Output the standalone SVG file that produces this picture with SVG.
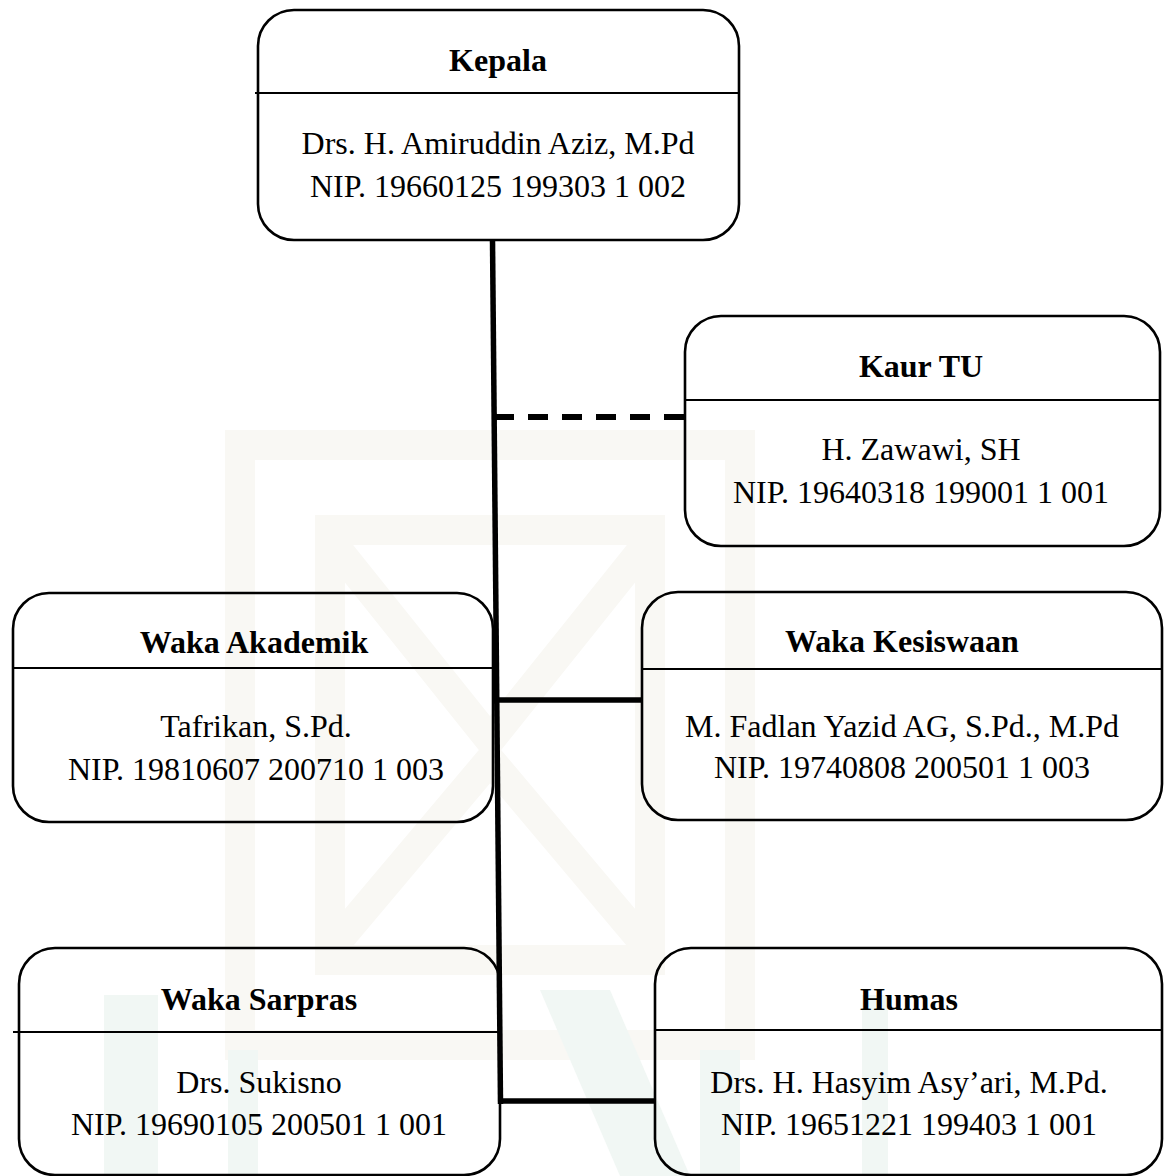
<svg xmlns="http://www.w3.org/2000/svg" width="1165" height="1176" viewBox="0 0 1165 1176">
  <style>
    .box { fill: none; stroke: #000; stroke-width: 2.6; }
    .div { stroke: #000; stroke-width: 2; }
    .title { font-family: "Liberation Serif", "Times New Roman", serif; font-weight: bold; font-size: 32px; text-anchor: middle; fill: #000; }
    .body { font-family: "Liberation Serif", "Times New Roman", serif; font-size: 32px; text-anchor: middle; fill: #000; }
    .link { stroke: #000; stroke-width: 5.5; fill: none; }
    .dash { stroke-dasharray: 20 14; stroke-width: 6; }
    .wm-a { fill: none; stroke: #f9f8f4; stroke-width: 30; }
    .wm-b { fill: #f1f7f4; }
  </style>

  <rect width="1165" height="1176" fill="#ffffff"/>

  <!-- faint background emblem -->
  <g id="watermark">
    <rect class="wm-a" x="240" y="445" width="500" height="600"/>
    <rect class="wm-a" x="330" y="530" width="320" height="430"/>
    <path class="wm-a" d="M330 540 L490 740 L650 540 M330 950 L490 760 L650 950"/>
    <rect class="wm-b" x="104" y="995" width="54" height="181"/>
    <rect class="wm-b" x="228" y="1050" width="30" height="126"/>
    <path class="wm-b" d="M540 990 L610 990 L690 1176 L620 1176 Z"/>
    <rect class="wm-b" x="700" y="1050" width="40" height="126"/>
    <rect class="wm-b" x="862" y="995" width="26" height="181"/>
  </g>

  <!-- connectors -->
  <g id="connectors">
    <line class="link" x1="492.5" y1="240" x2="500.5" y2="1104"/>
    <line class="link dash" x1="494" y1="417" x2="685" y2="417"/>
    <line class="link" x1="496" y1="700" x2="642" y2="700"/>
    <line class="link" x1="500" y1="1101" x2="655" y2="1101"/>
  </g>

  <g id="kepala">
    <rect class="box" x="258" y="10" width="481" height="230" rx="36" ry="36" fill="#fff"/>
    <line class="div" x1="255" y1="93" x2="738" y2="93"/>
    <text class="title" x="498" y="71">Kepala</text>
    <text class="body" x="498" y="154">Drs. H. Amiruddin Aziz, M.Pd</text>
    <text class="body" x="498" y="197">NIP. 19660125 199303 1 002</text>
  </g>

  <g id="kaur-tu">
    <rect class="box" x="685" y="316" width="475" height="230" rx="36" ry="36"/>
    <line class="div" x1="685" y1="400" x2="1160" y2="400"/>
    <text class="title" x="921" y="377">Kaur TU</text>
    <text class="body" x="921" y="460">H. Zawawi, SH</text>
    <text class="body" x="921" y="503">NIP. 19640318 199001 1 001</text>
  </g>

  <g id="waka-akademik">
    <rect class="box" x="13" y="593" width="480" height="229" rx="36" ry="36"/>
    <line class="div" x1="13" y1="668" x2="493" y2="668"/>
    <text class="title" x="254" y="653">Waka Akademik</text>
    <text class="body" x="256" y="737">Tafrikan, S.Pd.</text>
    <text class="body" x="256" y="780">NIP. 19810607 200710 1 003</text>
  </g>

  <g id="waka-kesiswaan">
    <rect class="box" x="642" y="592" width="520" height="228" rx="36" ry="36"/>
    <line class="div" x1="642" y1="669" x2="1162" y2="669"/>
    <text class="title" x="902" y="652">Waka Kesiswaan</text>
    <text class="body" x="902" y="737">M. Fadlan Yazid AG, S.Pd., M.Pd</text>
    <text class="body" x="902" y="778">NIP. 19740808 200501 1 003</text>
  </g>

  <g id="waka-sarpras">
    <rect class="box" x="19" y="948" width="481" height="227" rx="36" ry="36"/>
    <line class="div" x1="13" y1="1032" x2="498" y2="1032"/>
    <text class="title" x="259" y="1010">Waka Sarpras</text>
    <text class="body" x="259" y="1093">Drs. Sukisno</text>
    <text class="body" x="259" y="1135">NIP. 19690105 200501 1 001</text>
  </g>

  <g id="humas">
    <rect class="box" x="655" y="948" width="507" height="227" rx="36" ry="36"/>
    <line class="div" x1="655" y1="1030" x2="1162" y2="1030"/>
    <text class="title" x="909" y="1010">Humas</text>
    <text class="body" x="909" y="1093">Drs. H. Hasyim Asy’ari, M.Pd.</text>
    <text class="body" x="909" y="1135">NIP. 19651221 199403 1 001</text>
  </g>
</svg>
